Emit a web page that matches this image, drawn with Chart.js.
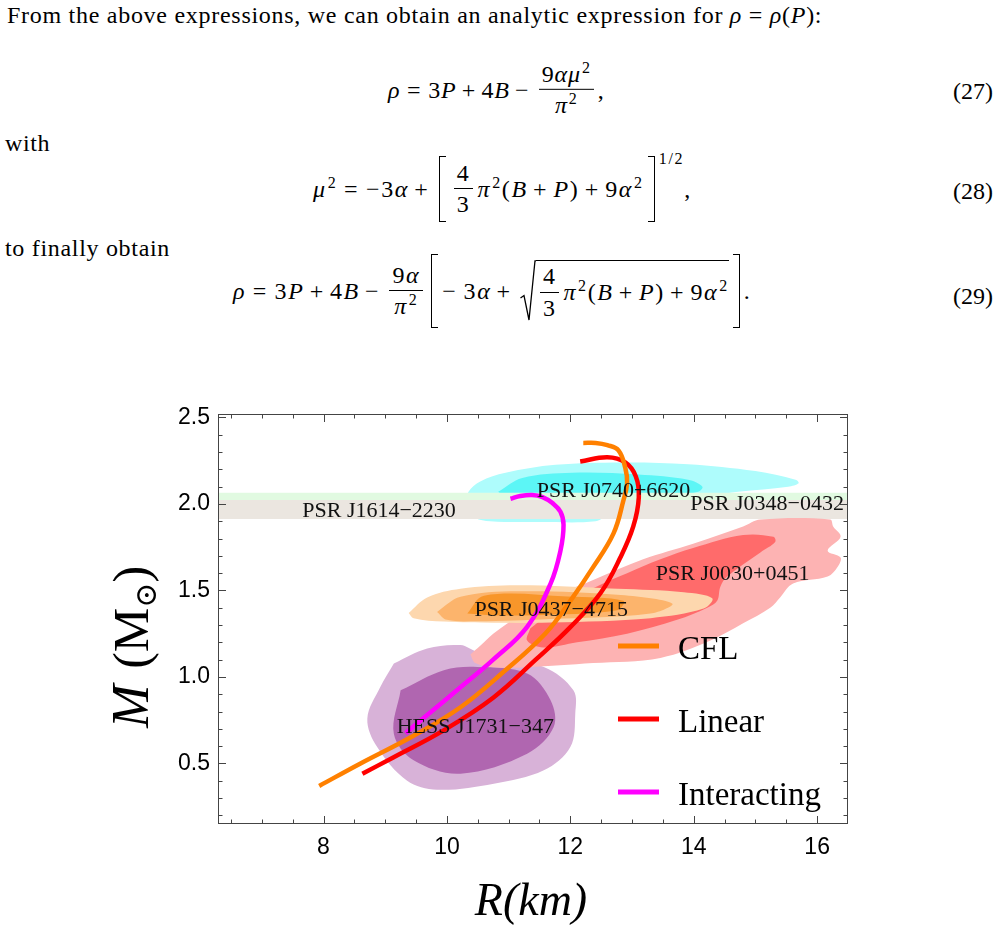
<!DOCTYPE html>
<html>
<head>
<meta charset="utf-8">
<script src="https://cdn.jsdelivr.net/npm/chart.js@4.4.0/dist/chart.umd.min.js"></script>
<style>
  body { margin: 0; background: #fff; width: 999px; height: 931px; position: relative; overflow: hidden;
         font-family: 'Liberation Serif', serif; color: #000; }
  .t { position: absolute; font-size: 24px; line-height: 1; white-space: nowrap; }
  .eq { position: absolute; display: flex; align-items: center; font-size: 24px; line-height: 1.1;
        white-space: nowrap; transform: translateY(-50%); }
  .o { margin: 0 0.22em; }
  .r { margin: 0 0.28em; }
  .sp { font-size: 16px; position: relative; top: -9px; margin-left: 1px; }
  .fr { display: inline-flex; flex-direction: column; align-items: center; margin: 0 4px; line-height: 1.05; }
  .fr > span:first-child { border-bottom: 1.2px solid #000; padding: 0 3px 2px; }
  .fr > span:last-child { padding-top: 3px; }
  .bl, .br { display: inline-block; width: 6px; border: 1.4px solid #000; margin: 0 4px; }
  .bl { border-right: none; }
  .br { border-left: none; }
  .sq { display: inline-flex; height: 62px; margin-left: 3px; }
  .rad { display: inline-flex; align-items: center; border-top: 1.2px solid #000; box-sizing: border-box;
         height: 62px; padding-top: 2px; }
  #wrap { position: absolute; left: 0; top: 370px; width: 999px; height: 561px; }
</style>
</head>
<body>
<div class="t" data-w="815" style="left:7px;top:3px">From the above expressions, we can obtain an analytic expression for <i>ρ</i> = <i>ρ</i>(<i>P</i>):</div>

<div class="eq" data-w="220" style="left:388px;top:90px">
  <span><i>ρ</i><span class="r">=</span>3<i>P</i><span class="o">+</span>4<i>B</i><span class="o">−</span></span>
  <span class="fr"><span>9<i>αμ</i><span class="sp">2</span></span><span><i>π</i><span class="sp">2</span></span></span>
  <span>,</span>
</div>
<div class="t" style="right:6px;top:79px">(27)</div>

<div class="t" data-w="45" style="left:5px;top:131px">with</div>

<div class="eq" data-w="387" style="left:313px;top:189px">
  <span><i>μ</i><span class="sp">2</span><span class="r">=</span>−3<i>α</i><span class="o">+</span></span>
  <span class="bl" style="height:64px"></span>
  <span class="fr"><span>4</span><span>3</span></span>
  <span><i>π</i><span class="sp">2</span>(<i>B</i><span class="o">+</span><i>P</i>)<span class="o">+</span>9<i>α</i><span class="sp">2</span></span>
  <span class="br" style="height:64px"></span>
  <span style="font-size:16px;position:relative;top:-30px">1/2</span>
  <span>,</span>
</div>
<div class="t" style="right:6px;top:179px">(28)</div>

<div class="t" data-w="165" style="left:5px;top:236px">to finally obtain</div>

<div class="eq" data-w="529" style="left:233px;top:291px">
  <span><i>ρ</i><span class="r">=</span>3<i>P</i><span class="o">+</span>4<i>B</i><span class="o">−</span></span>
  <span class="fr"><span>9<i>α</i></span><span><i>π</i><span class="sp">2</span></span></span>
  <span class="bl" style="height:72px"></span>
  <span>−&thinsp;3<i>α</i><span class="o">+</span></span>
  <span class="sq">
    <svg width="16" height="62" viewBox="0 0 16 62"><path d="M0.5 38 L4 35.5 L9 60 L15 0.8 L16 0.8" fill="none" stroke="#000" stroke-width="1.3"/></svg>
    <span class="rad"><span class="fr"><span>4</span><span>3</span></span><span><i>π</i><span class="sp">2</span>(<i>B</i><span class="o">+</span><i>P</i>)<span class="o">+</span>9<i>α</i><span class="sp">2</span></span></span>
  </span>
  <span class="br" style="height:72px"></span>
  <span>.</span>
</div>
<div class="t" style="right:6px;top:284px">(29)</div>

<div id="wrap"><canvas id="mr"></canvas></div>

<script>
// mass-radius curves (R in km, M in solar masses)
const cflR = [7.93, 8.60, 9.46, 10.22, 10.91, 11.60, 12.00, 12.37, 12.70, 12.86, 12.92, 12.89, 12.78, 12.60, 12.41, 12.21];
const cflM = [0.37, 0.50, 0.66, 0.825, 1.027, 1.253, 1.44, 1.635, 1.83, 2.02, 2.12, 2.21, 2.31, 2.34, 2.353, 2.353];
const linearR = [8.63, 9.13, 9.94, 10.75, 11.43, 12.00, 12.49, 12.81, 13.02, 13.11, 13.06, 12.89, 12.60, 12.16];
const linearM = [0.44, 0.535, 0.69, 0.88, 1.097, 1.288, 1.485, 1.69, 1.87, 2.04, 2.16, 2.24, 2.27, 2.245];
const interR = [9.33, 9.68, 10.22, 10.75, 11.30, 11.68, 11.84, 11.89, 11.84, 11.71, 11.55, 11.38, 11.19, 11.03];
const interM = [0.675, 0.78, 0.94, 1.10, 1.29, 1.54, 1.73, 1.88, 1.955, 2.005, 2.04, 2.052, 2.046, 2.03];

// observational contours, [R, M] outlines
const j0740Outer = [[10.31,1.99],[10.35,2.07],[10.54,2.13],[10.95,2.18],[11.76,2.226],[12.84,2.24],[13.91,2.23],[15.00,2.19],[15.65,2.14],[15.70,2.12],[15.53,2.10],[14.72,2.07],[14.11,2.04],[13.30,1.99],[12.65,1.94],[12.41,1.90],[11.51,1.896],[10.70,1.90],[10.46,1.92]];
const j0740Inner = [[10.83,2.07],[11.22,2.15],[12.03,2.18],[13.10,2.17],[13.91,2.14],[14.14,2.10],[14.07,2.07],[13.30,2.02],[11.84,2.005],[11.03,2.02]];
const j0348Band = [1.975, 2.065];
const j1614Band = [1.913, 2.023];
const hessOuter = [[9.14,1.078],[9.68,1.164],[10.22,1.184],[10.49,1.145],[11.57,1.058],[12.05,0.923],[12.08,0.788],[12.00,0.595],[11.57,0.46],[10.76,0.383],[9.84,0.348],[9.35,0.402],[8.87,0.595],[8.71,0.759],[8.92,0.942]];
const hessInner = [[9.25,0.923],[9.95,1.039],[10.49,1.058],[11.30,1.02],[11.68,0.865],[11.73,0.71],[11.30,0.556],[10.22,0.441],[9.46,0.518],[9.14,0.672]];
const j0030Outer = [[10.38,1.13],[10.54,1.18],[10.75,1.25],[11.19,1.36],[11.56,1.44],[12.37,1.56],[13.18,1.68],[13.99,1.77],[14.80,1.87],[15.08,1.91],[16.21,1.91],[16.26,1.87],[16.38,1.81],[16.17,1.73],[16.38,1.69],[16.33,1.635],[16.17,1.58],[15.61,1.54],[15.40,1.46],[15.24,1.40],[14.80,1.31],[14.27,1.21],[13.46,1.11],[12.37,1.08],[11.30,1.056],[10.75,1.056],[10.46,1.08]];
const j0030Inner = [[11.35,1.28],[11.84,1.415],[12.53,1.54],[12.92,1.60],[13.46,1.68],[13.99,1.745],[14.80,1.82],[15.29,1.81],[15.32,1.78],[15.08,1.72],[14.54,1.58],[14.43,1.52],[14.38,1.44],[14.22,1.40],[13.73,1.33],[12.92,1.25],[12.11,1.20],[11.56,1.17],[11.30,1.21]];
const j0437Outer = [[9.38,1.37],[9.68,1.46],[10.22,1.51],[11.14,1.53],[12.76,1.51],[13.84,1.49],[14.30,1.455],[14.16,1.395],[13.30,1.34],[11.68,1.315],[10.76,1.313],[9.95,1.32],[9.46,1.34]];
const j0437Mid = [[9.84,1.376],[10.22,1.463],[11.14,1.495],[12.76,1.475],[13.65,1.425],[13.30,1.367],[11.68,1.335],[10.49,1.322],[10.00,1.33]];
const j0437Inner = [[10.33,1.367],[10.60,1.47],[11.95,1.465],[12.86,1.44],[12.76,1.386],[11.40,1.357],[10.76,1.357]];

// source labels: text, R, M (baseline)
const labelText = ['PSR J1614\u22122230', 'PSR J0740+6620', 'PSR J0348\u22120432', 'PSR J0030+0451', 'PSR J0437\u22124715', 'HESS J1731\u2212347'];
const labelR = [8.90, 12.70, 15.19, 14.63, 11.69, 10.46];
const labelM = [1.925, 2.041, 1.965, 1.560, 1.351, 0.674];

// ticks
const xMajor = [8, 10, 12, 14, 16];
const xMinor = [6.5, 7, 7.5, 8.5, 9, 9.5, 10.5, 11, 11.5, 12.5, 13, 13.5, 14.5, 15, 15.5];
const yMajor = [0.5, 1.0, 1.5, 2.0, 2.5];
const yMinor = [0.2, 0.3, 0.4, 0.6, 0.7, 0.8, 0.9, 1.1, 1.2, 1.3, 1.4, 1.6, 1.7, 1.8, 1.9, 2.1, 2.2, 2.3, 2.4];

const seriesNames = ['CFL', 'Linear', 'Interacting'];
const seriesColors = ['#ff8000', '#ff0000', '#ff00ff'];

// fit text widths to the typeset original
document.querySelectorAll('[data-w]').forEach(el => {
  const w = el.getBoundingClientRect().width;
  const n = el.textContent.replace(/\s+/g, ' ').trim().length;
  el.style.letterSpacing = ((+el.dataset.w - w) / n).toFixed(2) + 'px';
});

const xMin = 6.29, xMax = 16.5, yMin = 0.15, yMax = 2.52;

function pts(rs, ms) { return rs.map((r, i) => ({x: r, y: ms[i]})); }
function outline(p) { return p.concat([p[0]]).map(q => ({x: q[0], y: q[1]})); }
function band(lim) { return outline([[xMin, lim[0]], [xMax, lim[0]], [xMax, lim[1]], [xMin, lim[1]]]); }

function region(data, color, order, tension) {
  return {
    data: data, showLine: true, fill: 'shape', backgroundColor: color,
    borderColor: 'rgba(0,0,0,0)', borderWidth: 0, pointRadius: 0,
    tension: tension === undefined ? 0.35 : tension, order: order
  };
}
function curve(data, color, name) {
  return { label: name, data: data, showLine: true, fill: false, borderColor: color,
           borderWidth: 4.5, pointRadius: 0, tension: 0.4, order: 1 };
}

const datasets = [
  curve(pts(cflR, cflM), seriesColors[0], seriesNames[0]),
  curve(pts(linearR, linearM), seriesColors[1], seriesNames[1]),
  curve(pts(interR, interM), seriesColors[2], seriesNames[2]),
  region(outline(j0437Inner), '#f8962a', 2),
  region(outline(j0437Mid), '#fcb46c', 3),
  region(outline(j0437Outer), '#fdd7ae', 4),
  region(outline(j0030Inner), '#ff6b6b', 5),
  region(outline(j0030Outer), '#fdb3b3', 6),
  region(outline(hessInner), '#b066b0', 7),
  region(outline(hessOuter), '#d8b2d8', 8),
  region(band(j1614Band), '#ebe6e0', 9, 0),
  region(band(j0348Band), '#e1fae1', 10, 0),
  region(outline(j0740Inner), '#5cf6f6', 11),
  region(outline(j0740Outer), '#aefcfc', 12)
];

const overlay = {
  id: 'overlay',
  afterDatasetsDraw(chart) {
    const {ctx, chartArea: a, scales: {x, y}} = chart;
    ctx.save();
    // frame with inward ticks on all sides
    ctx.strokeStyle = '#444';
    ctx.lineWidth = 1;
    ctx.strokeRect(a.left + 0.5, a.top + 0.5, a.right - a.left - 1, a.bottom - a.top - 1);
    ctx.beginPath();
    const tickX = (v, len) => {
      const p = Math.round(x.getPixelForValue(v)) + 0.5;
      ctx.moveTo(p, a.bottom); ctx.lineTo(p, a.bottom - len);
      ctx.moveTo(p, a.top); ctx.lineTo(p, a.top + len);
    };
    const tickY = (v, len) => {
      const p = Math.round(y.getPixelForValue(v)) + 0.5;
      ctx.moveTo(a.left, p); ctx.lineTo(a.left + len, p);
      ctx.moveTo(a.right, p); ctx.lineTo(a.right - len, p);
    };
    xMajor.forEach(v => tickX(v, 8));
    xMinor.forEach(v => tickX(v, 4.5));
    yMajor.forEach(v => tickY(v, 8));
    yMinor.forEach(v => tickY(v, 4.5));
    ctx.stroke();

    // source labels
    ctx.fillStyle = '#111';
    ctx.font = '22px "Liberation Serif"';
    ctx.textAlign = 'center';
    ctx.textBaseline = 'alphabetic';
    labelText.forEach((t, i) => ctx.fillText(t, x.getPixelForValue(labelR[i]), y.getPixelForValue(labelM[i])));

    // legend inside the frame
    ctx.font = '33px "Liberation Serif"';
    ctx.textAlign = 'left';
    seriesNames.forEach((n, i) => {
      const base = a.top + 245 + i * 73;
      ctx.strokeStyle = seriesColors[i];
      ctx.lineWidth = 5;
      ctx.beginPath();
      ctx.moveTo(a.left + 400, base - 13);
      ctx.lineTo(a.left + 441, base - 13);
      ctx.stroke();
      ctx.fillStyle = '#000';
      ctx.fillText(n, a.left + 460, base);
    });
    ctx.restore();
  },
  afterDraw(chart) {
    const {ctx, chartArea: a} = chart;
    ctx.save();
    ctx.fillStyle = '#000';
    // x title
    ctx.font = 'italic 46px "Liberation Serif"';
    ctx.textAlign = 'center';
    ctx.textBaseline = 'alphabetic';
    ctx.fillText('R(km)', (a.left + a.right) / 2 - 2, a.bottom + 91);
    // y title: M (M_sun)
    ctx.translate(a.left - 70, (a.top + a.bottom) / 2 + 28);
    ctx.rotate(-Math.PI / 2);
    const fBig = '50px "Liberation Serif", "DejaVu Serif"';
    const fIt = 'italic 52px "Liberation Serif"';
    const fSub = '30px "DejaVu Serif"';
    ctx.font = fIt; const wM = ctx.measureText('M').width;
    ctx.font = fBig; const wOpen = ctx.measureText('(M').width;
    ctx.font = fSub; const wSun = ctx.measureText('\u2299').width;
    ctx.font = fBig; const wClose = ctx.measureText(')').width;
    const gap = 16;
    let cx = -(wM + gap + wOpen + wSun + wClose) / 2;
    ctx.textAlign = 'left';
    ctx.font = fIt; ctx.fillText('M', cx, 0); cx += wM + gap;
    ctx.font = fBig; ctx.fillText('(M', cx, 0); cx += wOpen;
    ctx.font = fSub; ctx.fillText('\u2299', cx, 8); cx += wSun;
    ctx.font = fBig; ctx.fillText(')', cx, 0);
    ctx.restore();
  }
};

new Chart(document.getElementById('mr'), {
  type: 'scatter',
  data: { datasets: datasets },
  options: {
    responsive: true,
    maintainAspectRatio: false,
    animation: false,
    events: [],
    layout: { padding: { left: 0, right: 151, top: 44, bottom: 0 } },
    plugins: { legend: { display: false }, tooltip: { enabled: false } },
    scales: {
      x: {
        type: 'linear', min: xMin, max: xMax,
        grid: { display: false, drawTicks: false },
        border: { display: false },
        afterFit: s => { s.height = 107; },
        afterBuildTicks: s => { s.ticks = xMajor.map(v => ({ value: v })); },
        ticks: { padding: 10, color: '#000', font: { family: 'Liberation Sans', size: 23 },
                 callback: v => String(v) }
      },
      y: {
        type: 'linear', min: yMin, max: yMax,
        grid: { display: false, drawTicks: false },
        border: { display: false },
        afterFit: s => { s.width = 218; },
        afterBuildTicks: s => { s.ticks = yMajor.map(v => ({ value: v })); },
        ticks: { padding: 8, color: '#000', font: { family: 'Liberation Sans', size: 23 },
                 callback: v => v.toFixed(1) }
      }
    }
  },
  plugins: [overlay]
});
</script>
</body>
</html>
